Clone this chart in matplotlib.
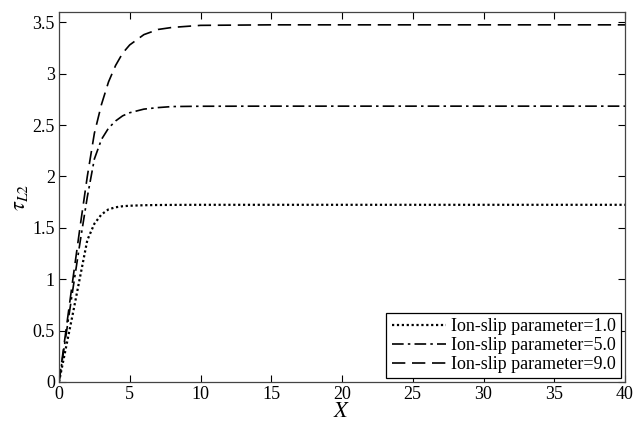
import matplotlib
matplotlib.use("Agg")
import matplotlib.pyplot as plt
import numpy as np

x = [0, 0.5, 1, 1.5, 2, 2.5, 3, 3.5, 4, 4.5, 5, 6, 7, 8, 10, 15, 20, 30, 40]
tau_1 = [0, 0.34, 0.68, 1.03, 1.38, 1.54, 1.63, 1.68, 1.70, 1.71, 1.715, 1.72, 1.722, 1.723, 1.724, 1.724, 1.724, 1.724, 1.724]
tau_5 = [0, 0.46, 0.92, 1.37, 1.80, 2.17, 2.36, 2.47, 2.54, 2.59, 2.62, 2.655, 2.67, 2.68, 2.683, 2.684, 2.684, 2.684, 2.684]
tau_9 = [0, 0.51, 1.02, 1.52, 2.00, 2.42, 2.70, 2.92, 3.08, 3.20, 3.28, 3.38, 3.43, 3.45, 3.47, 3.475, 3.475, 3.475, 3.475]
labels = ["Ion-slip parameter=1.0", "Ion-slip parameter=5.0", "Ion-slip parameter=9.0"]

plt.rcParams['font.family'] = ['Liberation Serif', 'DejaVu Serif']
plt.rcParams['mathtext.fontset'] = 'stix'

fig = plt.figure(figsize=(6.33, 4.25), dpi=100)
ax = fig.add_axes([59/633, 1 - 382/425, (625-59)/633, (382-12)/425])

ax.plot(x, tau_1, color='black', lw=1.6, linestyle=(0, (1, 1.2)), label=labels[0])
ax.plot(x, tau_5, color='black', lw=1.2, linestyle=(0, (7, 2.5, 1.5, 2.5)), label=labels[1])
ax.plot(x, tau_9, color='black', lw=1.2, linestyle=(0, (8, 4)), label=labels[2])

ax.set_xlim(0, 40)
ax.set_ylim(0, 3.6)
ax.set_xticks(range(0, 41, 5))
ax.set_yticks([0, 0.5, 1, 1.5, 2, 2.5, 3, 3.5])
ax.set_yticklabels(['0', '0.5', '1', '1.5', '2', '2.5', '3', '3.5'])
ax.tick_params(direction='in', top=True, right=True, labelsize=13, length=5, width=0.8, pad=3)
for s in ax.spines.values():
    s.set_linewidth(0.9)
    s.set_color('#444444')

ax.set_xlabel('$X$', fontsize=16, labelpad=0)
ax.set_ylabel(r'$\tau_{L2}$', fontsize=16, labelpad=2)

leg = ax.legend(loc='lower right', fontsize=13, frameon=True, fancybox=False,
                edgecolor='black', framealpha=1, handlelength=3.0, handletextpad=0.3,
                borderpad=0.3, labelspacing=0.1, borderaxespad=0.2)
leg.get_frame().set_linewidth(0.9)

fig.savefig('out.png', dpi=100)
